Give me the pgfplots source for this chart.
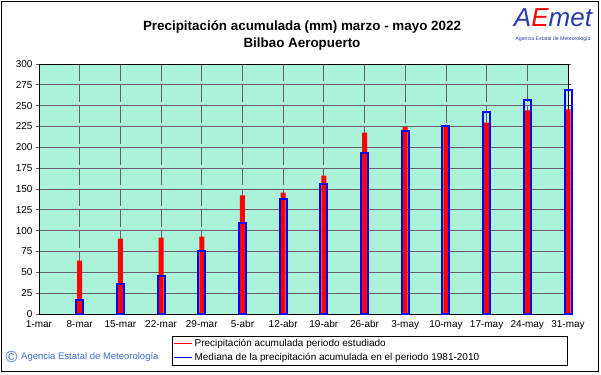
\documentclass[border=0pt]{standalone}
\usepackage{pgfplots}
\pgfplotsset{compat=1.18}
\usepackage{fontspec}
\setmainfont{Liberation Sans}
\definecolor{bgc}{RGB}{172,242,216}
\definecolor{gridc}{RGB}{105,95,110}
\definecolor{aemetblue}{RGB}{40,60,170}
\definecolor{footblue}{RGB}{60,110,210}
\begin{document}
\begin{tikzpicture}
\begin{axis}[
  scale only axis, width=529pt, height=250pt,
  xmin=0, xmax=13, ymin=0, ymax=300,
  xtick={0,...,13},
  xticklabels={1-mar,8-mar,15-mar,22-mar,29-mar,5-abr,12-abr,19-abr,26-abr,3-may,10-may,17-may,24-may,31-may},
  ytick={0,25,...,300},
  tick label style={font=\fontsize{10}{12}\selectfont},
  /pgf/number format/assume math mode=true,
  axis background/.style={fill=bgc},
  grid=major,
  x grid style={gridc, line width=0.8pt, dash pattern=on 17pt off 3.8pt, dash phase=17pt},
  y grid style={gridc, line width=0.8pt},
  tick align=outside, major tick length=3pt,
  xtick style={draw=none}, ytick style={gridc, line width=0.8pt},
  axis line style={black, line width=0.8pt},
  clip=false,
  legend style={at={(1,0)}, anchor=north east, yshift=-22pt, draw=black, line width=0.8pt,
    font=\fontsize{10}{12}\selectfont, inner sep=1pt, row sep=1pt},
  legend cell align=left,
]
\addplot[ybar, bar shift=0pt, bar width=5pt, fill=red, draw=none,
  legend image code/.code={\draw[line width=1.1pt, draw=red] (0pt,0pt) -- (18pt,0pt);}] coordinates {
(1,64) (2,90.4) (3,91.6) (4,92.8) (5,142.4) (6,145.6) (7,166) (8,217.7) (9,224.1) (10,224.5) (11,229.7) (12,244.2) (13,245.4)};
\addlegendentry{\makebox[370pt][l]{Precipitación acumulada periodo estudiado}}
\addplot[ybar, bar shift=0pt, bar width=7pt, draw=blue, line width=2pt, fill=none,
  legend image code/.code={\draw[line width=1.1pt, draw=blue] (0pt,0pt) -- (18pt,0pt);}] coordinates {
(1,17) (2,35.5) (3,45.8) (4,75) (5,108.6) (6,137.4) (7,155.4) (8,192.7) (9,219.1) (10,225.1) (11,242.7) (12,257.2) (13,268.4)};
\addlegendentry{\makebox[370pt][l]{Mediana de la precipitación acumulada en el periodo 1981-2010}}
\end{axis}
\node[font=\fontsize{13.4}{17}\selectfont\bfseries, align=center] at (263pt,278.5pt) {Precipitación acumulada (mm) marzo - mayo 2022\\Bilbao Aeropuerto};
\node[text=footblue, font=\fontsize{16}{16}\selectfont, inner sep=0pt] at (-27.5pt,-43pt) {©};
\node[text=footblue, font=\fontsize{9.5}{11}\selectfont, anchor=west, inner sep=0pt] at (-18pt,-43pt) {Agencia Estatal de Meteorología};
\node[font=\fontsize{26}{26}\selectfont\itshape, inner sep=0pt] at (514pt,296pt) {{\color{aemetblue}A}{\color{red}E}{\color{aemetblue}met}};
\node[text=aemetblue, font=\fontsize{5.2}{6}\selectfont, inner sep=0pt] at (514pt,275pt) {Agencia Estatal de Meteorología};
\draw[line width=1.2pt] (-37.4pt,-57.8pt) rectangle (559.4pt,312.2pt);
\pgfresetboundingbox
\useasboundingbox (-39pt,-60pt) rectangle (562pt,314pt);
\end{tikzpicture}
\end{document}
